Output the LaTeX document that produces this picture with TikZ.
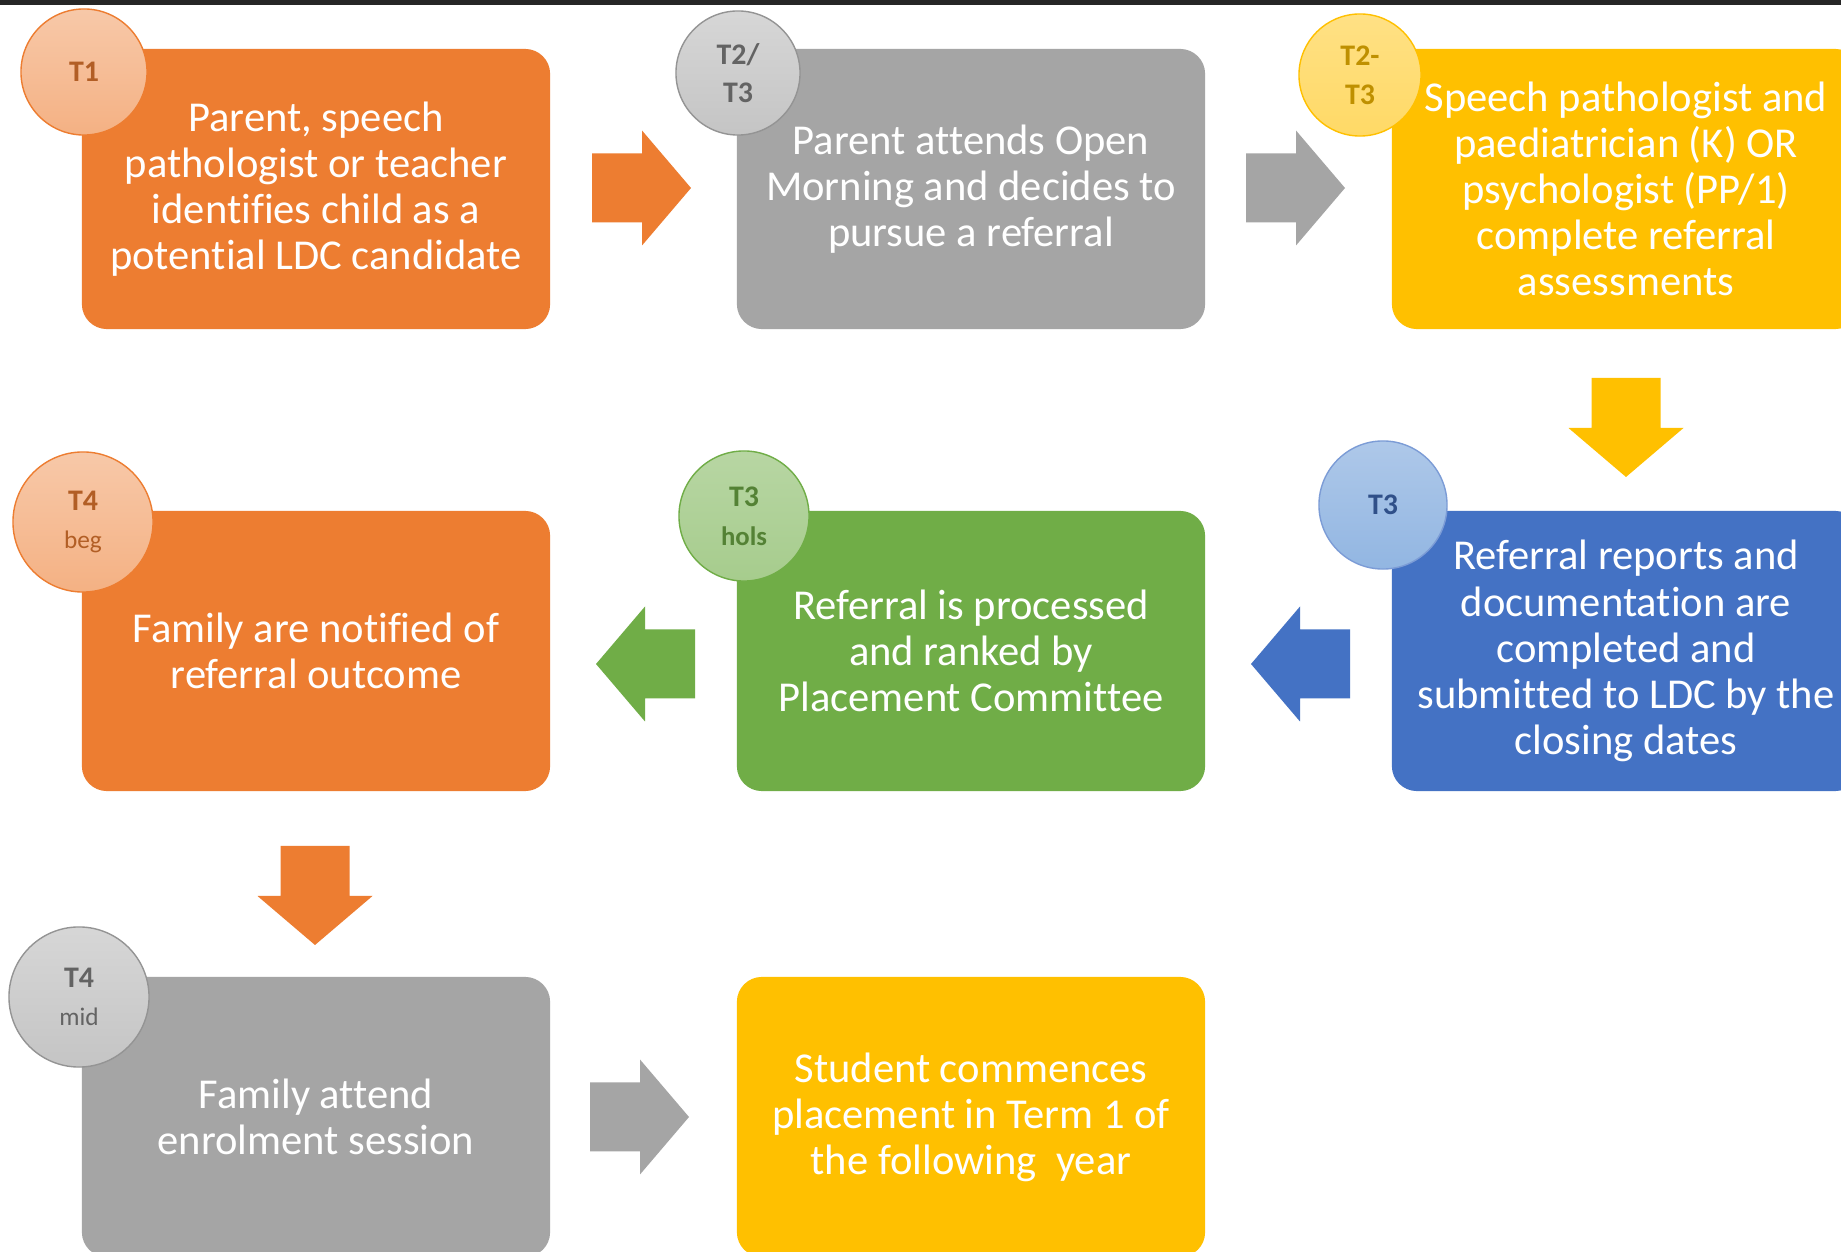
\documentclass[tikz,border=0pt]{standalone}
\usepackage{fontspec}
\setmainfont{Carlito}[Ligatures=NoCommon]

\definecolor{orangeA}{HTML}{ED7D31}
\definecolor{grayA}{HTML}{A5A5A5}
\definecolor{yellowA}{HTML}{FFC000}
\definecolor{greenA}{HTML}{70AD47}
\definecolor{blueA}{HTML}{4472C4}
\definecolor{topbar}{HTML}{262626}

\newcommand{\termsub}[1]{{\fontsize{7.2}{11}\selectfont\mdseries #1}}

\tikzset{
  stagebox/.style={rounded corners=0.25cm, minimum width=4.68cm, minimum height=2.8cm,
    align=center, text=white, inner sep=0pt, font=\fontsize{12.1}{13.1}\selectfont},
  termcircle/.style={circle, inner sep=0pt, align=center, line width=0.4pt,
    font=\fontsize{8.5}{11}\selectfont\bfseries},
  termO/.style={termcircle, draw=orangeA, top color=orangeA!42, bottom color=orangeA!60, text=orangeA!75!black},
  termG/.style={termcircle, draw=grayA!90!black, top color=grayA!45, bottom color=grayA!65, text=grayA!60!black},
  termY/.style={termcircle, draw=yellowA, top color=yellowA!48, bottom color=yellowA!60, text=yellowA!75!black},
  termGr/.style={termcircle, draw=greenA, top color=greenA!50, bottom color=greenA!62, text=greenA!75!black},
  termB/.style={termcircle, draw=blueA!70, top color={rgb,255:red,174;green,200;blue,233}, bottom color={rgb,255:red,146;green,182;blue,226}, text=blueA!70!black},
  pics/blockarrow/.style={code={
    \fill (0,-34.5) -- (50,-34.5) -- (50,-57.5) -- (99,0) -- (50,57.5) -- (50,34.5) -- (0,34.5) -- cycle;
  }}
}

\begin{document}
\begin{tikzpicture}[x=0.01cm, y=-0.01cm]
    \clip (0,0) rectangle (1841,1252);
    \fill [white] (0,0) rectangle (1841,1252);
    \fill [topbar] (0,0) rectangle (1841,5);

    % stages
    \node [stagebox, fill=orangeA] (identify) at (316,189)
        {Parent, speech\\pathologist or teacher\\identifies child as a\\potential LDC candidate};
    \node [stagebox, fill=grayA] (openmorning) at (971,189)
        {Parent attends Open\\Morning and decides to\\pursue a referral};
    \node [stagebox, fill=yellowA] (assess) at (1626,189)
        {Speech pathologist and\\paediatrician (K) OR\\psychologist (PP/1)\\complete referral\\assessments};
    \node [stagebox, fill=blueA] (reports) at (1626,651)
        {Referral reports and\\documentation are\\completed and\\submitted to LDC by the\\closing dates};
    \node [stagebox, fill=greenA] (ranked) at (971,651)
        {Referral is processed\\and ranked by\\Placement Committee};
    \node [stagebox, fill=orangeA] (notify) at (316,651)
        {Family are notified of\\referral outcome};
    \node [stagebox, fill=grayA] (enrol) at (316,1117)
        {Family attend\\enrolment session};
    \node [stagebox, fill=yellowA] (commence) at (971,1117)
        {Student commences\\placement in Term 1 of\\the following~ year};

    % terms
    \node [termO, minimum size=1.26cm] (t1) at (84,72) {T1};
    \node [termG, minimum size=1.24cm] (t2) at (738,73) {T2/\\T3};
    \node [termY, minimum size=1.22cm] (t3) at (1360,75) {T2-\\T3};
    \node [termB, minimum size=1.28cm] (t4) at (1383,505) {T3};
    \node [termGr, minimum size=1.30cm] (t5) at (744,516) {T3\\{\fontsize{7.6}{11}\selectfont hols}};
    \node [termO, minimum size=1.40cm] (t6) at (83,522) {T4\\\termsub{beg}};
    \node [termG, minimum size=1.40cm] (t7) at (79,997) {T4\\\termsub{mid}};

    % arrows
    \pic [fill=orangeA] at (592,188) {blockarrow};
    \pic [fill=grayA] at (1246,188) {blockarrow};
    \pic [fill=yellowA, rotate=-90] at (1626,378) {blockarrow};
    \pic [fill=blueA, rotate=180] at (1350,664) {blockarrow};
    \pic [fill=greenA, rotate=180] at (695,664) {blockarrow};
    \pic [fill=orangeA, rotate=-90] at (315,846) {blockarrow};
    \pic [fill=grayA] at (590,1117) {blockarrow};
\end{tikzpicture}
\end{document}
